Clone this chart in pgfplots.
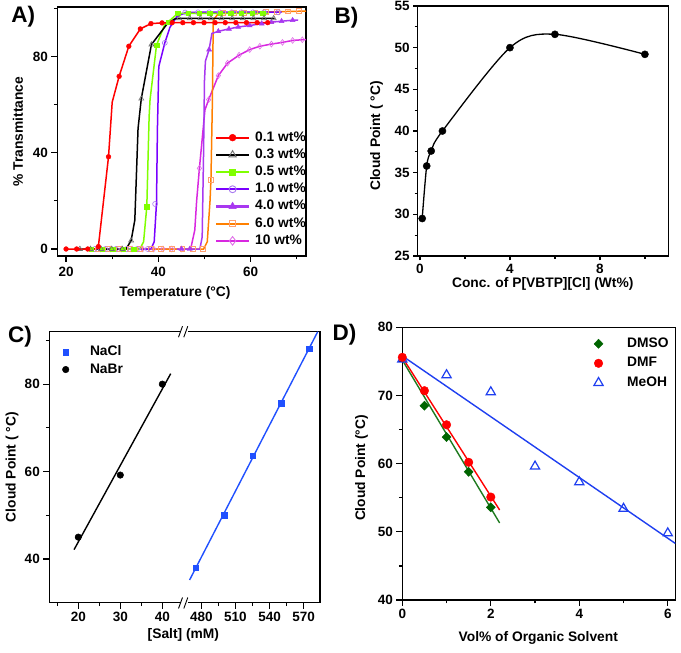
\documentclass[border=0pt]{standalone}
\usepackage{fontspec}
\setmainfont{Liberation Sans}
\usepackage{pgfplots}
\pgfplotsset{compat=1.18}
\definecolor{cRed}{HTML}{FF0000}
\definecolor{cGray}{HTML}{6E6E6E}
\definecolor{cLime}{HTML}{80FF00}
\definecolor{cViol}{HTML}{7A00FF}
\definecolor{cViolM}{HTML}{A878F0}
\definecolor{cPurp}{HTML}{A838F0}
\definecolor{cOrg}{HTML}{FF8000}
\definecolor{cOrgM}{HTML}{FFA070}
\definecolor{cMag}{HTML}{D828E0}
\definecolor{cMagM}{HTML}{E070E8}
\definecolor{cBlueC}{HTML}{2050FF}
\definecolor{cGreenD}{HTML}{006400}
\definecolor{cGreenL}{HTML}{1E7A1E}
\definecolor{cBlueD}{HTML}{1F3FF0}
\newcommand\ticf{\fontsize{13.5}{14}\selectfont\bfseries}
\newcommand\labf{\fontsize{13.8}{15}\selectfont\bfseries}
\pgfplotsset{
  panel/.style={
    scale only axis,
    axis line style={line width=1.4pt},
    every tick/.style={black, line width=1.2pt},
    tick align=outside, tick pos=left,
    major tick length=6pt, minor tick length=3.5pt,
    /pgf/number format/assume math mode=true,
    tick label style={font=\ticf},
    label style={font=\labf, anchor=center},
    legend style={draw=none, fill=none, font=\labf, inner sep=0pt, outer sep=0pt},
    legend cell align=left,
  },
}
\begin{document}
\begin{tikzpicture}
\useasboundingbox (0pt,0pt) rectangle (681pt,653pt);
% ---------------- Panel A ----------------
\begin{axis}[panel, at={(57.3pt,397pt)}, anchor=south west,
  width=248.7pt, height=249pt,
  xmin=18.1, xmax=72, ymin=-2.9, ymax=100.5,
  xtick={20,40,60}, minor xtick={30,50,70},
  ytick={0,40,80}, minor ytick={20,60,100},
  xlabel={Temperature (°C)}, ylabel={\% Transmittance},
  xlabel style={at={(axis description cs:0.473,-0.147)}},
  ylabel style={at={(axis description cs:-0.158,0.5)}},
  xticklabel style={yshift=-2pt},
  legend image code/.code={\draw[#1, mark=none, line width=2.2pt] (0pt,0pt) -- (33pt,0pt); \draw[#1] plot coordinates {(16.5pt,0pt)};},
  legend style={at={(axis description cs:0.634,0.50)}, anchor=north west, row sep=4.9pt, column sep=5pt,
    nodes={inner sep=0pt, text height=9.7pt, text depth=2.6pt}},
]
\addlegendimage{cRed, mark=*, mark options={solid, fill=cRed, draw=cRed, mark size=3.4pt, line width=0.5pt}}
\addlegendentry{0.1 wt\%}
\addlegendimage{black, mark=triangle, mark options={solid, draw=cGray, fill=white, mark size=4.2pt, line width=0.9pt}}
\addlegendentry{0.3 wt\%}
\addlegendimage{cLime, mark=square*, mark options={solid, fill=cLime, draw=cLime, mark size=3pt, line width=0.5pt}}
\addlegendentry{0.5 wt\%}
\addlegendimage{cViol, mark=o, mark options={solid, draw=cViolM, fill=white, mark size=3.5pt, line width=0.9pt}}
\addlegendentry{1.0 wt\%}
\addlegendimage{cPurp, mark=triangle*, mark options={solid, fill=cPurp, draw=cPurp, mark size=4.2pt, line width=0.5pt}}
\addlegendentry{4.0 wt\%}
\addlegendimage{cOrg, mark=square, mark options={solid, draw=cOrgM, fill=white, mark size=3.3pt, line width=0.9pt}}
\addlegendentry{6.0 wt\%}
\addlegendimage{cMag, mark=diamond, mark options={solid, draw=cMagM, fill=white, mark size=4.3pt, line width=0.9pt}}
\addlegendentry{10 wt\%}
% 10 wt%
\addplot[forget plot, cMag, line width=1.5pt, mark=none] coordinates {
(25,0)(47,0)(47.9,7.9)(48.3,20)(48.9,33.5)(50.1,57.8)(50.9,62)(53,72)(55,77.2)(57.5,80.5)(59.8,82.8)(62,84.2)(64.5,85.1)(66.9,85.8)(69.1,86.6)(71.2,86.9)(72,87)};
\addplot[forget plot, only marks, mark=diamond, mark size=2.9pt, mark options={draw=cMagM, line width=0.6pt}] coordinates {
(27.4,0)(29.7,0)(32,0)(34.3,0)(36.6,0)(39,0)(41,0)(42.9,0)(45,0)(48.9,33.5)(50.9,62)(53,72)(55,77.2)(57.5,80.5)(59.8,82.8)(62,84.2)(64.5,85.1)(66.9,85.8)(69.1,86.6)(71.2,86.9)};
% 6.0 wt%
\addplot[forget plot, cOrg, line width=1.5pt, mark=none] coordinates {
(25,0)(49.8,0)(50.6,3)(51.2,20)(51.4,28.7)(51.7,60)(51.9,95)(53,97.8)(60,98.3)(72,98.8)};
\addplot[forget plot, only marks, mark=square, mark size=2.4pt, mark options={draw=cOrgM, line width=0.6pt}] coordinates {
(26.8,0)(29.1,0)(31.4,0)(33.7,0)(36,0)(38.3,0)(40.6,0)(42.9,0)(45.2,0)(47.5,0)(49.6,0)(51.4,28.7)(54,98)(56.3,98.1)(58.6,98.2)(61,98.3)(63.3,98.4)(65.7,98.5)(68.1,98.7)(70.5,98.8)};
% 4.0 wt%
\addplot[forget plot, cPurp, line width=1.5pt, mark=none] coordinates {
(44,0)(49,0)(49.5,5)(49.8,40)(50,70)(50.2,78)(51,82.8)(51.6,89.5)(53,90.4)(55.3,91.4)(57.3,92.2)(59.8,92.8)(62.4,93.6)(64.5,94.2)(66.7,94.6)(69.1,95)(70.3,95.1)};
\addplot[forget plot, only marks, mark=triangle*, mark size=2.9pt, mark options={fill=cPurp, draw=cPurp}] coordinates {
(45,0)(46.8,0)(51,82.8)(53,90.4)(55.3,91.4)(57.3,92.2)(59.8,92.8)(62.4,93.6)(64.5,94.2)(66.7,94.6)(69.1,95)};
% 1.0 wt%
\addplot[forget plot, cViol, line width=1.5pt, mark=none] coordinates {
(25,0)(38.4,0)(39.1,3)(39.6,19)(39.8,50)(40.1,75.8)(41.4,85.6)(42.5,92)(44,96.5)(46,98.3)(66.7,98.4)};
\addplot[forget plot, only marks, mark=o, mark size=2.5pt, mark options={draw=cViolM, line width=0.6pt}] coordinates {
(26.2,0)(28.5,0)(30.8,0)(33.1,0)(35.4,0)(37.7,0)(39.3,18.7)(41.4,85.6)(45.8,98.2)(48.6,98.3)(51,98.3)(53.3,98.3)(55.9,98.3)(58,98.3)(60.5,98.3)(62.9,98.3)(66,98.3)};
% 0.5 wt%
\addplot[forget plot, cLime, line width=1.5pt, mark=none] coordinates {
(24,0)(36,0)(36.8,3)(37.5,17.6)(38,55)(38.2,62)(39.6,84.6)(41.4,93.3)(42.1,94.3)(44.2,97.8)(64,97.8)};
\addplot[forget plot, only marks, mark=square*, mark size=2.2pt, mark options={fill=cLime, draw=cLime}] coordinates {
(25.5,0)(27.8,0)(30.1,0)(32.4,0)(34.7,0)(37.5,17.6)(39.6,84.6)(42.1,94.3)(44.2,97.8)(46.5,97.8)(48.8,97.8)(51.1,97.8)(53.4,97.8)(55.7,97.8)(58,97.8)(60.3,97.8)(62.6,97.8)};
% 0.3 wt%
\addplot[forget plot, black, line width=1.5pt, mark=none] coordinates {
(22.5,0)(33,0)(34.1,3.5)(34.9,12)(35.6,50)(36.3,62.4)(38.5,84.9)(41.8,93.2)(43.5,95.5)(44.5,95.8)(65.2,95.8)};
\addplot[forget plot, only marks, mark=triangle, mark size=2.9pt, mark options={draw=cGray, line width=0.6pt}] coordinates {
(23,0)(25.3,0)(27.6,0)(29.9,0)(32.2,0)(34.1,3.5)(36.3,62.4)(38.5,84.9)(44.5,95.8)(46.8,95.8)(49.1,95.8)(51.4,95.8)(53.7,95.8)(56,95.8)(58.3,95.8)(60.6,95.8)(62.9,95.8)(65,95.8)};
% 0.1 wt%
\addplot[forget plot, cRed, line width=1.5pt, mark=none] coordinates {
(20,0)(22.3,0)(24.7,0)(26.5,0)(27,1)(29.2,38.3)(30,61)(31.5,71.7)(33.6,84.2)(36.1,91.4)(38.4,93.6)(40.8,93.9)(43,94)(65,94)};
\addplot[forget plot, only marks, mark=*, mark size=2.4pt, mark options={fill=cRed, draw=cRed}] coordinates {
(20,0)(22.3,0)(24.7,0)(27,1)(29.2,38.3)(31.5,71.7)(33.6,84.2)(36.1,91.4)(38.4,93.6)(40.8,93.9)(43.0,94)(45.3,94)(47.6,94)(49.9,94)(52.3,94)(54.5,94)(56.8,94)(59.1,94)(61.4,94)(63.7,94)};
\end{axis}
% ---------------- Panel B ----------------
\begin{axis}[panel, at={(417.7pt,397pt)}, anchor=south west,
  width=250.6pt, height=250pt,
  xmin=-0.1, xmax=11.04, ymin=25, ymax=55,
  xtick={0,4,8}, minor xtick={2,6,10},
  ytick={25,30,35,40,45,50,55}, minor ytick={27.5,32.5,37.5,42.5,47.5,52.5},
  major tick length=4.5pt, minor tick length=3pt,
  xlabel={Conc. of P[VBTP][Cl] (Wt\%)}, ylabel={Cloud Point ( °C)},
  xlabel style={at={(axis description cs:0.499,-0.112)}},
  ylabel style={at={(axis description cs:-0.164,0.48)}},
  clip=false,
]
\addplot[black, line width=1.3pt, smooth, tension=0.5, mark=none] coordinates {
(0.1,29.5)(0.3,35.8)(0.5,37.6)(1,40)(4,50)(6,51.6)(10,49.2)};
\addplot[only marks, mark=*, mark size=3.6pt, black] coordinates {
(0.1,29.5)(0.3,35.8)(0.5,37.6)(1,40)(4,50)(6,51.6)(10,49.2)};
\end{axis}
% ---------------- Panel C ----------------
\begin{axis}[panel, at={(49.3pt,50.3pt)}, anchor=south west,
  width=133.8pt, height=271pt,
  xmin=13.1, xmax=44.95, ymin=30, ymax=92,
  xtick={20,30,40}, minor xtick={15,25,35},
  ytick={40,60,80}, minor ytick={50,70,90},
  xlabel={\relax[Salt] (mM)}, ylabel={Cloud Point ( °C)},
  xlabel style={at={(axis description cs:1.002,-0.119)}},
  ylabel style={at={(axis description cs:-0.279,0.5)}},
  legend image code/.code={\draw[#1] plot coordinates {(0pt,0pt)};},
  legend style={at={(axis description cs:0.098,0.948)}, anchor=north west, row sep=5.3pt, column sep=21pt,
    nodes={inner sep=0pt, text height=9.7pt, text depth=2.6pt}},
]
\addlegendimage{only marks, mark=square*, cBlueC, mark size=2.9pt}
\addlegendentry{NaCl}
\addlegendimage{only marks, mark=*, black, mark size=3.3pt}
\addlegendentry{NaBr}
\addplot[forget plot, black, line width=1.4pt, mark=none] coordinates {(19,42.15) (42,82.4)};
\addplot[forget plot, only marks, mark=*, mark size=3.3pt, black] coordinates {(20,45) (30,59.2) (40,80)};
\end{axis}
\begin{axis}[panel, at={(185.5pt,50.3pt)}, anchor=south west,
  width=134.5pt, height=271pt,
  xmin=466, xmax=584.4, ymin=30, ymax=92,
  xtick={480,510,540,570}, minor xtick={495,525,555}, ytick=\empty,
]
\addplot[cBlueC, line width=1.4pt, mark=none] coordinates {(469.6,35.2) (582.4,92)};
\addplot[only marks, mark=square*, mark size=2.8pt, cBlueC] coordinates {
(475,38)(500,50)(525,63.6)(550,75.7)(575,88.1)};
\end{axis}
\fill[white] (182pt,51.2pt) rectangle (187pt,320.4pt);
\fill[white] (180.5pt,45pt) rectangle (188pt,55pt);
\draw[line width=0.9pt] (178.5pt,44.5pt) -- (182.5pt,55.5pt) (183.8pt,44.5pt) -- (187.8pt,55.5pt);
\fill[white] (180.5pt,316.3pt) rectangle (188pt,326.3pt);
\draw[line width=0.9pt] (178.5pt,315.8pt) -- (182.5pt,326.8pt) (183.8pt,315.8pt) -- (187.8pt,326.8pt);
% ---------------- Panel D ----------------
\begin{axis}[panel, at={(402.3pt,53pt)}, anchor=south west,
  width=273pt, height=272.7pt,
  xmin=0, xmax=6.17, ymin=40, ymax=80,
  xtick={0,2,4,6}, minor xtick={1,3,5},
  ytick={40,50,60,70,80}, minor ytick={45,55,65,75},
  xlabel={Vol\% of Organic Solvent}, ylabel={Cloud Point (°C)},
  xlabel style={at={(axis description cs:0.498,-0.140)}},
  ylabel style={at={(axis description cs:-0.149,0.484)}},
  clip=false,
  legend image code/.code={\draw[#1] plot coordinates {(0pt,0pt)};},
  legend style={at={(axis description cs:0.702,0.962)}, anchor=north west, row sep=7.2pt, column sep=24pt,
    nodes={inner sep=0pt, text height=9.7pt, text depth=2.6pt}},
]
\addlegendimage{only marks, mark=diamond*, cGreenD, mark size=4.6pt, mark options={xscale=1.3}}
\addlegendentry{DMSO}
\addlegendimage{only marks, mark=*, cRed, mark size=4.3pt}
\addlegendentry{DMF}
\addlegendimage{only marks, mark=triangle, cBlueD, mark size=5.3pt, line width=1.2pt}
\addlegendentry{MeOH}
\addplot[forget plot, cBlueD, line width=1.4pt, mark=none] coordinates {(0,75.8) (6.17,48.3)};
\addplot[forget plot, cGreenL, line width=1.4pt, mark=none] coordinates {(0,75.2) (2.2,51.3)};
\addplot[forget plot, cRed, line width=1.4pt, mark=none] coordinates {(0,75.6) (2.2,53.2)};
\addplot[forget plot, only marks, mark=triangle, mark size=5.3pt, mark options={draw=cBlueD, line width=1.2pt}] coordinates {
(0,75.3)(1,73.0)(2,70.5)(3,59.6)(4,57.3)(5,53.4)(6,49.8)};
\addplot[forget plot, only marks, mark=diamond*, mark size=4.6pt, mark options={fill=cGreenD, draw=cGreenD, xscale=1.3}] coordinates {
(0.5,68.5)(1,63.9)(1.5,58.8)(2,53.6)};
\addplot[forget plot, only marks, mark=*, mark size=4.3pt, mark options={fill=cRed, draw=cRed}] coordinates {
(0,75.6)(0.5,70.7)(1,65.7)(1.5,60.2)(2,55.1)};
\end{axis}
% panel letters
\node[font=\fontsize{22.5}{23}\selectfont\bfseries] at (23.3pt,636.3pt) {A)};
\node[font=\fontsize{22.5}{23}\selectfont\bfseries] at (346.5pt,635.5pt) {B)};
\node[font=\fontsize{22.5}{23}\selectfont\bfseries] at (20pt,316.3pt) {C)};
\node[font=\fontsize{22.5}{23}\selectfont\bfseries] at (344.5pt,318pt) {D)};
\end{tikzpicture}
\end{document}
